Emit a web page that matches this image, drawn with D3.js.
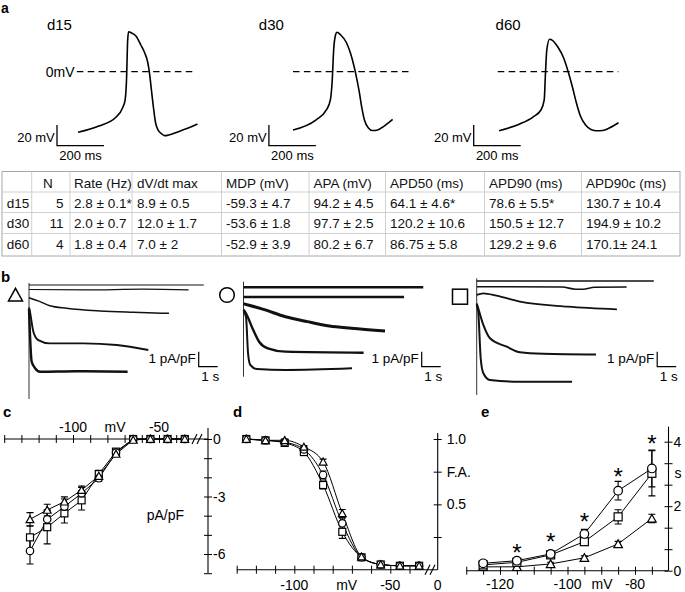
<!DOCTYPE html>
<html>
<head>
<meta charset="utf-8">
<script src="https://cdnjs.cloudflare.com/ajax/libs/d3/7.8.5/d3.min.js"></script>
<style>
  body { margin: 0; background: #fff; }
  svg { font-family: "Liberation Sans", Arial, sans-serif; }
</style>
</head>
<body>
<script>
// ---- a: action potentials, [ms, mV] ----
var apNames = ["d15", "d30", "d60"];
var apD15 = [[0,-58.6],[88,-52.5],[162,-43.8],[189,-35.1],[200,-27.4],[206,-8],[211,30.6],[215,38.6],[228,37.4],[246,34.5],[267,25.8],[284,17.8],[296,9.4],[303,0],[312,-17.7],[322,-37],[329,-48.6],[340,-56.3],[357,-60.2],[368,-61.8],[385,-61.2],[415,-58.9],[463,-54.9],[508,-50.5]];
var apD30 = [[0,-56.3],[97,-46.7],[142,-37],[159,-27.3],[167,-8],[173,21],[181,35.5],[187,38.1],[203,35.5],[226,28.7],[243,19],[265,0],[282,-19.6],[293,-35],[304,-46.7],[321,-54.4],[338,-56.8],[360,-56.3],[388,-52.5],[424,-46]];
var apD60 = [[0,-57],[88,-50.5],[144,-43.8],[178,-37],[192,-27.3],[197,-3.2],[203,21],[215,31.3],[228,30.1],[250,23.9],[273,14.2],[294,0],[312,-14.8],[329,-30.2],[346,-42.8],[368,-51.5],[391,-55.8],[415,-57],[441,-56.8],[469,-54.4],[508,-49.3]];

// ---- table ----
var tableHeader = ["", "N", "Rate (Hz)", "dV/dt max", "MDP (mV)", "APA (mV)", "APD50 (ms)", "APD90 (ms)", "APD90c (ms)"];
var tableRows = [
  ["d15", "5", "2.8 ± 0.1*", "8.9 ± 0.5", "-59.3 ± 4.7", "94.2 ± 4.5", "64.1 ± 4.6*", "78.6 ± 5.5*", "130.7 ± 10.4"],
  ["d30", "11", "2.0 ± 0.7", "12.0 ± 1.7", "-53.6 ± 1.8", "97.7 ± 2.5", "120.2 ± 10.6", "150.5 ± 12.7", "194.9 ± 10.2"],
  ["d60", "4", "1.8 ± 0.4", "7.0 ± 2", "-52.9 ± 3.9", "80.2 ± 6.7", "86.75 ± 5.8", "129.2 ± 9.6", "170.1± 24.1"]
];

// ---- b: current traces, [s, pA/pF] ----
var tracesTri = [
  [[0,0],[9.2,0]],
  [[0,-0.3],[3,-0.33],[6,-0.28],[8.4,-0.32]],
  [[0,-0.85],[0.58,-1.11],[1.1,-1.38],[1.98,-1.55],[3.74,-1.73],[5.49,-1.82],[7.37,-1.89]],
  [[0,-1.5],[0.05,-1.78],[0.23,-3.11],[0.49,-3.67],[1.1,-3.89],[2.86,-3.89],[4.62,-4.0],[6.28,-4.33]],
  [[0,-1.6],[0.14,-5.11],[0.32,-5.55],[0.58,-5.78],[2.5,-5.75],[5.19,-5.78]]
];
var tracesCirc = [
  [[0,0],[9.46,0]],
  [[0,-0.65],[8.45,-0.65]],
  [[0,-1.1],[0.24,-1.18],[1.05,-1.47],[2.21,-1.96],[3.36,-2.29],[4.52,-2.58],[5.67,-2.73],[7.45,-2.91]],
  [[0,-1.5],[0.13,-1.73],[0.47,-2.73],[0.82,-3.63],[1.28,-4.07],[2.21,-4.29],[6.32,-4.36]],
  [[0,-1.6],[0.13,-1.96],[0.24,-4.4],[0.36,-5.18],[0.71,-5.45],[2.21,-5.51],[5.71,-5.4]]
];
var tracesSq = [
  [[0,0],[9.32,0]],
  [[0,-0.38],[4.5,-0.4],[5.2,-0.55],[5.6,-0.55],[6.2,-0.42],[7.89,-0.4]],
  [[0,-0.93],[0.35,-0.82],[1.05,-0.98],[2.28,-1.38],[4.79,-1.71],[7.38,-1.89]],
  [[0,-1.5],[0.08,-1.82],[0.35,-2.93],[0.7,-3.82],[1.58,-4.38],[2.28,-4.75],[3.5,-4.85],[6.28,-4.9]],
  [[0,-1.6],[0.08,-2.05],[0.21,-5.15],[0.35,-6.15],[0.7,-6.6],[2.28,-6.71],[5.02,-6.71]]
];

// ---- c: I-V (pA/pF) ----
var voltC = [-125, -115, -105, -95, -85, -75, -65, -55, -45, -35];
var ivTri  = [-4.19, -3.7, -3.27, -2.66, -1.93, -0.78, -0.05, 0, 0, 0];
var ivCirc = [-5.84, -4.19, -3.53, -2.83, -2.05, -0.71, 0, 0, 0, 0];
var ivSq   = [-5.13, -4.6, -3.88, -3.2, -1.83, -0.66, 0, 0, 0, 0];
var ivTriErr  = [0.35, 0.3, 0.25, 0.2, 0.15, 0.1, 0.05, 0.05, 0.05, 0.05];
var ivCircErr = [0.68, 0.5, 0.4, 0.3, 0.15, 0.1, 0.05, 0.05, 0.05, 0.05];
var ivSqErr   = [0.6, 0.87, 0.5, 0.5, 0.2, 0.1, 0.05, 0.05, 0.05, 0.05];

// ---- d: fractional availability ----
var voltD = [-125, -115, -105, -95, -85, -75, -65, -55, -45, -35];
var faTri  = [1.0, 0.99, 0.99, 0.94, 0.826, 0.431, 0.1, 0.04, 0.03, 0.03];
var faCirc = [1.0, 0.99, 0.975, 0.92, 0.725, 0.355, 0.095, 0.04, 0.03, 0.03];
var faSq   = [1.0, 0.99, 0.97, 0.9, 0.648, 0.29, 0.095, 0.04, 0.03, 0.03];
var faTriErr  = [0.01, 0.01, 0.01, 0.01, 0.02, 0.03, 0.01, 0.01, 0.01, 0.01];
var faCircErr = [0.01, 0.01, 0.01, 0.02, 0.03, 0.04, 0.01, 0.01, 0.01, 0.01];
var faSqErr   = [0.01, 0.01, 0.01, 0.02, 0.03, 0.05, 0.01, 0.01, 0.01, 0.01];

// ---- e: time constants (s) ----
var voltE = [-125, -115, -105, -95, -85, -75];
var tauCirc = [0.23, 0.31, 0.52, 1.14, 2.48, 3.17];
var tauSq   = [0.18, 0.26, 0.49, 0.9, 1.67, 3.02];
var tauTri  = [0.12, 0.12, 0.21, 0.4, 0.83, 1.62];
var tauCircErr = [0.05, 0.05, 0.06, 0.14, 0.29, 0.57];
var tauSqErr   = [0.05, 0.05, 0.06, 0.1, 0.22, 0.7];
var tauTriErr  = [0.03, 0.03, 0.05, 0.06, 0.08, 0.13];
var starVolt = [-115, -105, -95, -85, -75];
var starTau  = [0.74, 1.08, 1.68, 3.07, 4.1];

var svg = d3.select("body").append("svg")
            .attr("width", 685)
            .attr("height", 592);

drawAPs();
drawTable();
drawTraces();
drawIV();
drawFA();
drawTau();

function panelLabel(t, x, y) {
  svg.append("text").attr("x", x).attr("y", y)
     .attr("font-size", 15).attr("font-weight", "bold").text(t);
}

function txt(g, t, x, y, size, anchor) {
  return g.append("text").attr("x", x).attr("y", y)
          .attr("font-size", size).attr("text-anchor", anchor || "start").text(t);
}

// a
function drawAPs() {
  svg.append("text").attr("x", 1).attr("y", 13)
     .attr("font-size", 14).attr("font-weight", "bold").text("a");
  var g = svg.append("g");
  var traces = [apD15, apD30, apD60];
  var starts = [78.1, 293, 499.1];
  var bars = [57, 268.9, 473.7];
  var labelX = [46.9, 258.8, 495.6];
  var dash = [[76.8, 195.2], [293, 411.4], [497.8, 618.4]];
  var y = d3.scaleLinear().domain([0, 20]).range([71.7, 51]);

  traces.forEach(function(tr, i) {
    var x = d3.scaleLinear().domain([0, 200]).range([starts[i], starts[i] + 47]);
    txt(g, apNames[i], labelX[i], 30, 15);

    g.append("line")
     .attr("x1", dash[i][0]).attr("x2", dash[i][1])
     .attr("y1", y(0)).attr("y2", y(0))
     .attr("stroke", "#000").attr("stroke-width", 1.3)
     .attr("stroke-dasharray", "6.5,4.4");

    g.append("path").datum(tr)
     .attr("fill", "none").attr("stroke", "#000").attr("stroke-width", 1.6)
     .attr("d", d3.line().x(d => x(d[0])).y(d => y(d[1])).curve(d3.curveMonotoneX));

    // scale bar 20 mV / 200 ms
    var bx = bars[i], by = 145.7;
    g.append("path")
     .attr("d", "M" + bx + "," + (by - (y(0) - y(20))) + "V" + by + "H" + (bx + (x(200) - x(0))))
     .attr("fill", "none").attr("stroke", "#000").attr("stroke-width", 1.3);
    txt(g, "20 mV", bx - 2.2, 141.5, 13, "end");
    txt(g, "200 ms", bx + 2.2, 160, 13);
  });
  txt(g, "0mV", 74.6, 76.7, 14, "end");
}

function drawTable() {
  var g = svg.append("g");
  var top = 171.5, bottom = 256, left = 2, right = 680;
  var colLines = [31.7, 70, 132, 221.5, 309, 385.5, 484.5, 581.5];
  var rowLines = [192, 212.5, 233.5];
  var colText = [6.7, 43, 74, 137, 226, 313.5, 390, 489, 586];
  var baselines = [188, 207.5, 228, 248.5];

  g.append("rect").attr("x", left).attr("y", top)
   .attr("width", right - left).attr("height", bottom - top)
   .attr("fill", "none").attr("stroke", "#a8a8a8").attr("stroke-width", 1);
  colLines.forEach(function(cx) {
    g.append("line").attr("x1", cx).attr("x2", cx).attr("y1", top).attr("y2", bottom)
     .attr("stroke", "#d0d0d0").attr("stroke-width", 1);
  });
  rowLines.forEach(function(ry) {
    g.append("line").attr("x1", left).attr("x2", right).attr("y1", ry).attr("y2", ry)
     .attr("stroke", "#d0d0d0").attr("stroke-width", 1);
  });

  [tableHeader].concat(tableRows).forEach(function(row, r) {
    row.forEach(function(cell, c) {
      if (r > 0 && c == 1) {
        txt(g, cell, 63.5, baselines[r], 13.5, "end").attr("fill", "#111");
      } else {
        txt(g, cell, colText[c], baselines[r], 13.5).attr("fill", "#111");
      }
    });
  });
}

function marker(g, shape, cx, cy, s, sw) {
  var m;
  if (shape == "tri") {
    m = g.append("path")
         .attr("d", "M" + (cx - s) + "," + (cy + s * 0.85) + "L" + (cx + s) + "," + (cy + s * 0.85) +
                    "L" + cx + "," + (cy - s * 0.95) + "Z");
  } else if (shape == "circ") {
    m = g.append("circle").attr("cx", cx).attr("cy", cy).attr("r", s);
  } else {
    m = g.append("rect").attr("x", cx - s).attr("y", cy - s).attr("width", 2 * s).attr("height", 2 * s);
  }
  m.attr("fill", "#fff").attr("stroke", "#000").attr("stroke-width", sw);
  return m;
}

// b
function drawTraces() {
  panelLabel("b", 1, 282);
  var g = svg.append("g");
  var groups = [
    {traces: tracesTri, shape: "tri", mx: 15.5, my: 295, ms: 7, x0: 29, y0: 285, lineTop: 283, lineBot: 399,
     widths: [1, 1.2, 1.5, 1.9, 2.4], barX: 198.7, barY: 366.7},
    {traces: tracesCirc, shape: "circ", mx: 227, my: 295, ms: 7.3, x0: 243.5, y0: 287.3, lineTop: 281.7, lineBot: 376.7,
     widths: [2.6, 2.4, 3, 2.4, 2], barX: 421.7, barY: 366.7},
    {traces: tracesSq, shape: "sq", mx: 460, my: 296.7, ms: 7.5, x0: 476.7, y0: 281, lineTop: 278.3, lineBot: 395,
     widths: [1.6, 1.6, 1.8, 2, 2], barX: 657.2, barY: 366.7}
  ];
  var pxPerS = 19, pxPerPA = 15;

  groups.forEach(function(gr) {
    var x = d3.scaleLinear().domain([0, 1]).range([gr.x0, gr.x0 + pxPerS]);
    var y = d3.scaleLinear().domain([0, -1]).range([gr.y0, gr.y0 + pxPerPA]);

    marker(g, gr.shape, gr.mx, gr.my, gr.ms, 1.5);

    g.append("line").attr("x1", gr.x0).attr("x2", gr.x0)
     .attr("y1", gr.lineTop).attr("y2", gr.lineBot)
     .attr("stroke", "#333").attr("stroke-width", 1);

    gr.traces.forEach(function(tr, i) {
      g.append("path").datum(tr)
       .attr("fill", "none").attr("stroke", "#111").attr("stroke-width", gr.widths[i])
       .attr("stroke-linejoin", "round")
       .attr("d", d3.line().x(d => x(d[0])).y(d => y(d[1])).curve(d3.curveMonotoneX));
    });

    // 1 pA/pF / 1 s bar
    var bx = gr.barX, by = gr.barY;
    g.append("path")
     .attr("d", "M" + bx + "," + (by - (y(-1) - y(0))) + "V" + by + "H" + (bx + (x(1) - x(0))))
     .attr("fill", "none").attr("stroke", "#000").attr("stroke-width", 1.2);
    txt(g, "1 pA/pF", bx - 3, 363, 13.5, "end");
    txt(g, "1 s", bx + (x(1) - x(0)) / 2 + 2, 381, 13.5, "middle");
  });
}

function crossTicks(g, scale, values, horizontal, pos, size) {
  var pair = horizontal ? [d3.axisBottom(scale), d3.axisTop(scale)] : [d3.axisLeft(scale), d3.axisRight(scale)];
  var tr = horizontal ? "translate(0," + pos + ")" : "translate(" + pos + ",0)";
  pair.forEach(function(a) {
    g.append("g").attr("transform", tr)
     .call(a.tickValues(values).tickSize(size || 4).tickSizeOuter(0).tickFormat(""))
     .call(function(s) { s.select(".domain").remove(); });
  });
}

function breakMark(g, cx, cy) {
  [-2.5, 2.5].forEach(function(o) {
    g.append("line")
     .attr("x1", cx + o - 2.5).attr("y1", cy + 5)
     .attr("x2", cx + o + 2.5).attr("y2", cy - 5)
     .attr("stroke", "#000").attr("stroke-width", 1.1);
  });
}

function drawSeries(g, mg, x, y, xs, vals, errs, shape, s, curve) {
  var pts = xs.map(function(v, i) { return [v, vals[i], errs[i]]; });
  g.append("path").datum(pts)
   .attr("fill", "none").attr("stroke", "#000").attr("stroke-width", 1)
   .attr("d", d3.line().x(d => x(d[0])).y(d => y(d[1])).curve(curve));
  pts.forEach(function(d) {
    var cx = x(d[0]), y1 = y(d[1] - d[2]), y2 = y(d[1] + d[2]);
    g.append("path")
     .attr("d", "M" + cx + "," + y1 + "V" + y2 + "M" + (cx - 3.5) + "," + y1 + "H" + (cx + 3.5) +
                "M" + (cx - 3.5) + "," + y2 + "H" + (cx + 3.5))
     .attr("fill", "none").attr("stroke", "#000").attr("stroke-width", 1.1);
  });
  pts.forEach(function(d) {
    marker(mg, shape, x(d[0]), y(d[1]), s, 1.2);
  });
}

// c
function drawIV() {
  panelLabel("c", 3, 417);
  var g = svg.append("g");
  var x = d3.scaleLinear().domain([-140, -30]).range([4.2, 193.4]);
  var y = d3.scaleLinear().domain([0, -7]).range([439, 573.2]);
  var axisX = 208;

  g.append("line").attr("x1", x(-140)).attr("x2", axisX).attr("y1", y(0)).attr("y2", y(0))
   .attr("stroke", "#000").attr("stroke-width", 1.1);
  crossTicks(g, x, d3.range(-140, -35, 10), true, y(0));
  g.append("line").attr("x1", axisX).attr("x2", axisX).attr("y1", 428).attr("y2", y(-7))
   .attr("stroke", "#000").attr("stroke-width", 1.1);
  crossTicks(g, y, d3.range(0, -8, -1), false, axisX);
  breakMark(g, 197, y(0));

  txt(g, "-100", x(-100), 432, 14, "middle");
  txt(g, "mV", 115, 432, 14, "middle");
  txt(g, "-50", x(-50), 432, 14, "middle");
  [0, -3, -6].forEach(function(v) {
    txt(g, String(v), axisX + 5, y(v) + 5, 14);
  });
  txt(g, "pA/pF", 146.7, 520, 14);

  var mg = svg.append("g");
  drawSeries(g, mg, x, y, voltC, ivSq, ivSqErr, "sq", 3.5, d3.curveLinear);
  drawSeries(g, mg, x, y, voltC, ivCirc, ivCircErr, "circ", 3.7, d3.curveLinear);
  drawSeries(g, mg, x, y, voltC, ivTri, ivTriErr, "tri", 3.9, d3.curveLinear);
}

// d
function drawFA() {
  panelLabel("d", 233, 417);
  var g = svg.append("g");
  var x = d3.scaleLinear().domain([-130, -30]).range([236.7, 428.7]);
  var y = d3.scaleLinear().domain([0, 1]).range([569.7, 439]);
  var axisX = 437.7;

  g.append("line").attr("x1", x(-130)).attr("x2", axisX).attr("y1", y(0)).attr("y2", y(0))
   .attr("stroke", "#000").attr("stroke-width", 1.1);
  crossTicks(g, x, d3.range(-130, -35, 10), true, y(0));
  g.append("line").attr("x1", axisX).attr("x2", axisX).attr("y1", 433).attr("y2", y(0))
   .attr("stroke", "#000").attr("stroke-width", 1.1);
  crossTicks(g, y, [0.25, 0.5, 0.75, 1], false, axisX);
  breakMark(g, 430, y(0));

  txt(g, "-100", x(-100), 590, 14, "middle");
  txt(g, "mV", 346.7, 590, 14, "middle");
  txt(g, "-50", x(-50), 590, 14, "middle");
  txt(g, "0", axisX, 590, 14, "middle");
  txt(g, "1.0", axisX + 9, y(1) + 5, 14);
  txt(g, "F.A.", axisX + 9, y(0.75) + 5, 14);
  txt(g, "0.5", axisX + 9, y(0.5) + 5, 14);

  var mg = svg.append("g");
  drawSeries(g, mg, x, y, voltD, faSq, faSqErr, "sq", 3.5, d3.curveMonotoneX);
  drawSeries(g, mg, x, y, voltD, faCirc, faCircErr, "circ", 3.7, d3.curveMonotoneX);
  drawSeries(g, mg, x, y, voltD, faTri, faTriErr, "tri", 3.9, d3.curveMonotoneX);
}

// e
function drawTau() {
  panelLabel("e", 481, 417);
  var g = svg.append("g");
  var x = d3.scaleLinear().domain([-130, -70]).range([466.25, 668.75]);
  var y = d3.scaleLinear().domain([0, 4]).range([570.7, 441.7]);
  var axisX = 668.5;

  g.append("line").attr("x1", x(-130)).attr("x2", axisX).attr("y1", y(0)).attr("y2", y(0))
   .attr("stroke", "#000").attr("stroke-width", 1.1);
  crossTicks(g, x, d3.range(-130, -72, 5), true, y(0));
  g.append("line").attr("x1", axisX).attr("x2", axisX).attr("y1", 426.7).attr("y2", y(0))
   .attr("stroke", "#000").attr("stroke-width", 1.1);
  crossTicks(g, y, d3.range(0, 4.01, 2 / 3), false, axisX);

  txt(g, "-120", x(-120), 589, 14, "middle");
  txt(g, "-100", x(-100), 589, 14, "middle");
  txt(g, "mV", 602, 589, 14, "middle");
  txt(g, "-80", x(-80), 589, 14, "middle");
  [0, 2, 4].forEach(function(v) {
    txt(g, String(v), axisX + 5, y(v) + 5, 14);
  });
  txt(g, "s", axisX + 6, 478, 14);

  var mg = svg.append("g");
  drawSeries(g, mg, x, y, voltE, tauTri, tauTriErr, "tri", 4.3, d3.curveLinear);
  drawSeries(g, mg, x, y, voltE, tauSq, tauSqErr, "sq", 4, d3.curveLinear);
  drawSeries(g, mg, x, y, voltE, tauCirc, tauCircErr, "circ", 4.3, d3.curveLinear);

  starVolt.forEach(function(v, i) {
    svg.append("text").attr("x", x(v)).attr("y", y(starTau[i]))
       .attr("dy", "0.57em").attr("font-size", 24).attr("text-anchor", "middle").text("*");
  });
}
</script>
</body>
</html>
